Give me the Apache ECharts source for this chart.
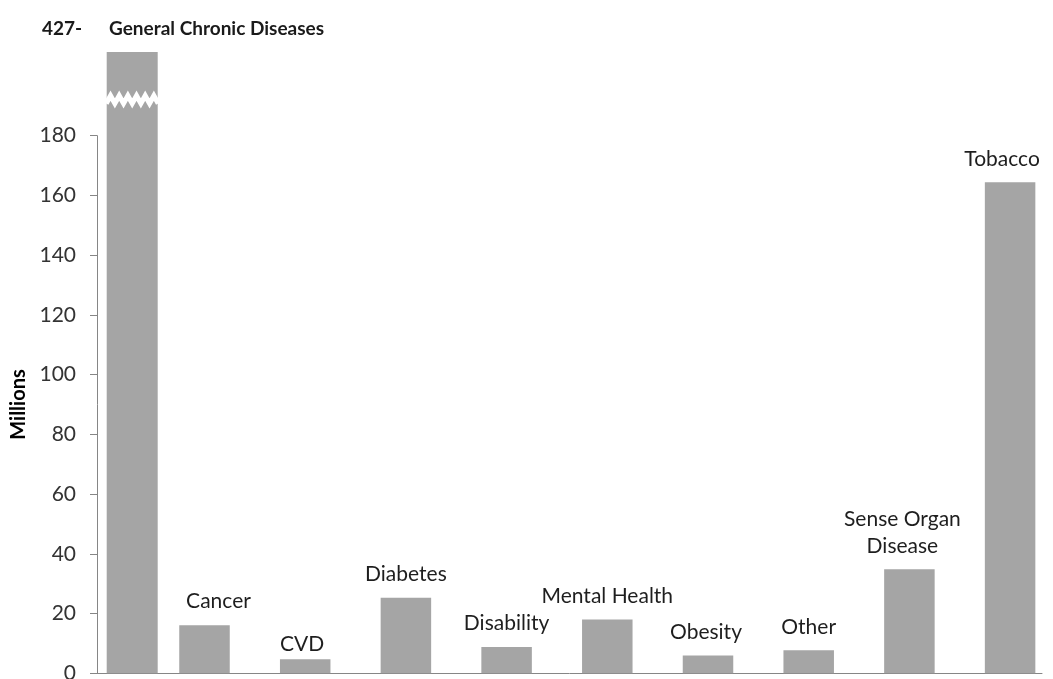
<!DOCTYPE html>
<html>
<head>
<meta charset="utf-8">
<script src="https://cdn.jsdelivr.net/npm/echarts@6/dist/echarts.min.js"></script>
<style>
html,body{margin:0;padding:0;background:#fff;}
#main{width:1053px;height:679px;}
</style>
</head>
<body>
<div id="main"></div>
<script>
// ---- data ----
const categories = ['General Chronic Diseases', 'Cancer', 'CVD', 'Diabetes', 'Disability', 'Mental Health', 'Obesity', 'Other', 'Sense Organ\nDisease', 'Tobacco'];
const values = [427, 16.1, 4.7, 25.3, 8.8, 18.0, 6.0, 7.7, 34.8, 164.4];
const yTickMin = 0;
const yTickMax = 180;
const yTickStep = 20;
const axisBreak = [190.8, 193.4]; // value band where the tall bar is shown broken

// ---- layout ----
const W = 1053, H = 679;
const yZero = 673.3;      // pixel of value 0
const yAxisTop = 135.7;   // pixel of value 180
const barTop = 52;        // pixel where the truncated bar ends
const bottom = H - yZero;
const barAxisMax = yTickMax * (yZero - barTop) / (yZero - yAxisTop);
const font = 'Lato';
const barColor = '#a5a5a5';

const chart = echarts.init(document.getElementById('main'), null, {renderer: 'canvas'});

// label placement tweaks (style only)
const labelStyleFor = {
  'Cancer': {distance: 10, offset: [14, 0]},
  'CVD': {distance: 2, offset: [-3, 0]},
  'Obesity': {distance: 10, offset: [-2, 0]},
  'Sense Organ\nDisease': {distance: 10, offset: [-7, 0]},
  'Tobacco': {distance: 10, offset: [-8, 0]}
};

const option = {
  animation: false,
  backgroundColor: '#fff',
  title: {
    left: 37, top: 14,
    text: '{v|' + values[0] + '-}{n|' + categories[0] + '}',
    textStyle: {
      rich: {
        v: {fontFamily: font, fontWeight: 'bold', fontSize: 19, color: '#1a1a1a', width: 67},
        n: {fontFamily: font, fontWeight: 'bold', fontSize: 19, color: '#1a1a1a'}
      }
    }
  },
  grid: [
    {left: 97, width: 70.4, top: barTop, bottom: bottom, outerBoundsMode: 'none', containLabel: false},
    {left: 154.15, width: 906.3, top: barTop, bottom: bottom, outerBoundsMode: 'none', containLabel: false},
    {left: 97, right: W - 1042, top: yAxisTop, bottom: bottom, outerBoundsMode: 'none', containLabel: false}
  ],
  xAxis: [
    {gridIndex: 0, type: 'category', data: [categories[0]], show: false},
    {gridIndex: 1, type: 'category', data: categories.slice(1), show: false},
    {gridIndex: 2, type: 'category', data: [''],
     axisLine: {show: true, lineStyle: {color: '#868686', width: 1}},
     axisTick: {show: false}, axisLabel: {show: false}, splitLine: {show: false}}
  ],
  yAxis: [
    {gridIndex: 0, type: 'value', min: 0, max: barAxisMax, show: false, splitLine: {show: false}},
    {gridIndex: 1, type: 'value', min: 0, max: barAxisMax, show: false, splitLine: {show: false}},
    {gridIndex: 2, type: 'value', min: yTickMin, max: yTickMax, interval: yTickStep,
     axisLine: {show: true, lineStyle: {color: '#868686', width: 1}},
     axisTick: {show: true, inside: false, length: 7, lineStyle: {color: '#868686'}},
     axisLabel: {fontFamily: font, fontSize: 21, color: '#333', margin: 21},
     splitLine: {show: false},
     name: 'Millions', nameLocation: 'middle', nameGap: 66, nameRotate: 90,
     nameTextStyle: {fontFamily: font, fontWeight: 'bold', fontSize: 20, color: '#000'}}
  ],
  series: [
    {
      type: 'bar', xAxisIndex: 0, yAxisIndex: 0,
      data: [values[0]], barWidth: 51, clip: true,
      itemStyle: {color: barColor}, z: 2
    },
    {
      type: 'custom', xAxisIndex: 0, yAxisIndex: 0, z: 5,
      data: [[0, axisBreak[0], axisBreak[1]]],
      renderItem: function (params, api) {
        const lo = api.coord([api.value(0), api.value(1)]);
        const hi = api.coord([api.value(0), api.value(2)]);
        const half = 26, teeth = 6, n = teeth * 2;
        const pts = [];
        for (let i = 0; i <= n; i++) {
          pts.push([lo[0] - half + i * (2 * half) / n, i % 2 ? hi[1] : lo[1]]);
        }
        return {type: 'polyline', shape: {points: pts},
                style: {stroke: '#fff', lineWidth: 5, fill: null, lineJoin: 'miter'}};
      }
    },
    {
      type: 'bar', xAxisIndex: 1, yAxisIndex: 1,
      data: values.slice(1).map((v, i) => ({
        value: v,
        label: labelStyleFor[categories[i + 1]] || {distance: 10}
      })),
      barWidth: 50.5,
      itemStyle: {color: barColor},
      label: {
        show: true, position: 'top', formatter: '{b}',
        fontFamily: font, fontSize: 21, color: '#1e1e1e', lineHeight: 27
      }
    }
  ]
};
chart.setOption(option);
</script>
</body>
</html>
